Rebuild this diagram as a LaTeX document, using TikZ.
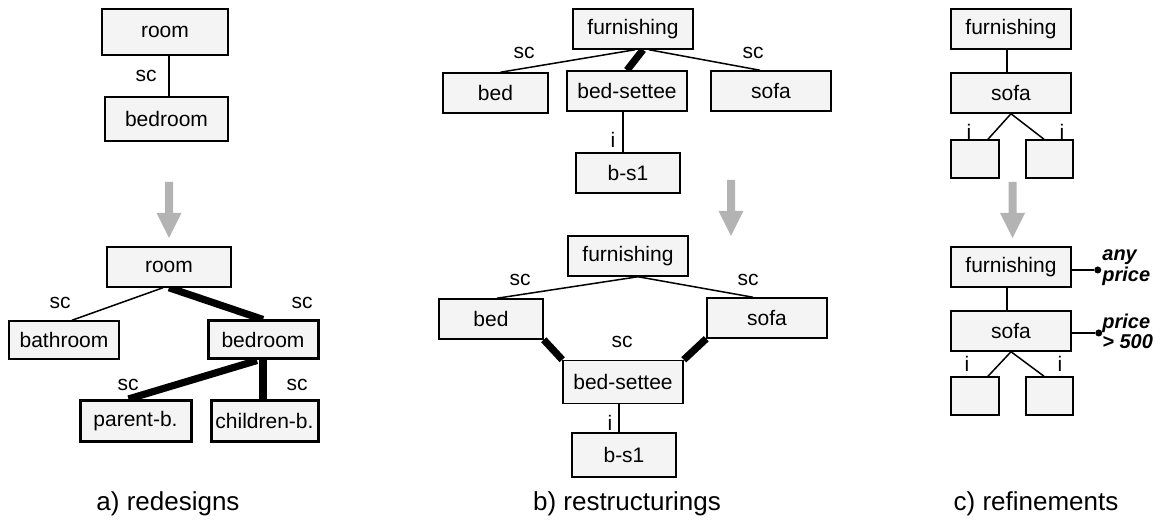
\documentclass[tikz,border=0pt]{standalone}
\usepackage{fontspec}
\setmainfont{Liberation Sans}
\usetikzlibrary{calc,backgrounds}
\definecolor{boxfill}{HTML}{F4F4F4}
\definecolor{arrowgray}{HTML}{B3B3B3}
\tikzset{
  cls/.style={draw=black, fill=boxfill, line width=0.75pt, inner sep=0pt,
    font=\fontsize{10.5}{12}\selectfont, minimum height=20pt},
  clsbold/.style={cls, line width=1.5pt},
  rel/.style={line width=0.75pt},
  relbold/.style={line width=3.6pt},
  lbl/.style={inner sep=0pt, font=\fontsize{10.5}{12}\selectfont},
  note/.style={inner sep=0pt, align=left, anchor=west,
    font=\fontsize{10}{7}\selectfont\bfseries\itshape},
  caption/.style={inner sep=0pt, font=\fontsize{13}{15}\selectfont},
  dot/.style={circle, fill=black, inner sep=0pt, minimum size=3.5pt},
  downarrow/.pic={\fill[arrowgray] (-4,0) -- (4,0) -- (4,31) -- (12.5,31)
    -- (0,56) -- (-12.5,31) -- (-4,31) -- cycle;}
}
\begin{document}
\begin{tikzpicture}[x=0.5pt, y=-0.5pt]
\useasboundingbox (0,0) rectangle (1164,522);

% ---------- a) redesigns ----------
\node[cls, minimum width=63pt, minimum height=23pt] (aroom) at (165,32) {room};
\node[cls, minimum width=61.5pt, minimum height=22pt] (abed) at (166.5,119) {bedroom};
\node[lbl] (asc) at (146,76) {sc};
\draw[rel] ([xshift=2pt]aroom.south) -- ([xshift=2pt]aroom.south |- abed.north);
\pic at (169,182) {downarrow};

\node[cls, minimum width=62pt] (broom) at (169,267) {room};
\node[cls, minimum width=55pt, minimum height=19pt] (bath) at (64,340) {bathroom};
\node[clsbold, minimum width=55pt, minimum height=19pt] (bbed) at (263,340) {bedroom};
\node[clsbold, minimum width=55.5pt, minimum height=20.5pt] (parent) at (135.5,421) {parent-b.};
\node[clsbold, minimum width=53.5pt, minimum height=20.5pt] (child) at (264.5,421) {children-b.};
\node[lbl] at (60,303) {sc};
\node[lbl] at (302,303) {sc};
\node[lbl] at (128,385) {sc};
\node[lbl] at (297,385) {sc};
\begin{pgfonlayer}{background}
  \draw[rel] ([xshift=-3pt]broom.south) -- ([xshift=4pt]bath.north);
  \draw[relbold] (broom.south) -- (bbed.north);
  \draw[relbold] ([xshift=-3pt]bbed.south) -- ([xshift=-3.5pt]parent.north);
  \draw[relbold] (bbed.south) -- (bbed.south |- child.north);
\end{pgfonlayer}
\node[caption] at (168,504) {a) redesigns};

% ---------- b) restructurings ----------
\node[cls, minimum width=60pt] (bfur) at (633,29) {furnishing};
\node[cls, minimum width=52.5pt] (bbd) at (495.5,93) {bed};
\node[cls, minimum width=60pt] (bset) at (627,91) {bed-settee};
\node[cls, minimum width=60pt] (bsofa) at (771,91) {sofa};
\node[cls, minimum width=52pt] (bbs) at (628,173) {b-s1};
\node[lbl] at (524,53) {sc};
\node[lbl] at (753,53) {sc};
\node[lbl] at (613,140) {i};
\begin{pgfonlayer}{background}
  \draw[rel] ([xshift=1pt]bfur.south) -- ([xshift=2.5pt]bbd.north);
  \draw[relbold] ([xshift=5pt]bfur.south) -- (bset.north);
  \draw[rel] ([xshift=8pt]bfur.south) -- ([xshift=-5.5pt]bsofa.north);
  \draw[rel] ([xshift=-2pt]bset.south) -- ([xshift=-2pt]bset.south |- bbs.north);
\end{pgfonlayer}
\pic at (731,180) {downarrow};

\node[cls, minimum width=60pt] (cfur) at (628,256) {furnishing};
\node[cls, minimum width=52pt] (cbed) at (491,319) {bed};
\node[cls, minimum width=60pt] (csofa) at (767,318) {sofa};
\node[cls, minimum width=60pt, minimum height=21.5pt] (cset) at (623,382) {bed-settee};
\node[cls, minimum width=52pt, minimum height=22pt] (cbs) at (624,455) {b-s1};
\node[lbl] at (520,280) {sc};
\node[lbl] at (748,280) {sc};
\node[lbl] at (622,342) {sc};
\node[lbl] at (610,423) {i};
\begin{pgfonlayer}{background}
  \draw[rel] ([xshift=5pt]cfur.south) -- ([xshift=3pt]cbed.north);
  \draw[rel] ([xshift=5pt]cfur.south) -- ([xshift=-7pt]csofa.north);
  \draw[relbold] (cbed.south east) -- (cset.north west);
  \draw[relbold] (csofa.south west) -- (cset.north east);
  \draw[rel] ([xshift=-2pt]cset.south) -- ([xshift=-2pt]cset.south |- cbs.north);
\end{pgfonlayer}
\node[caption] at (627,504) {b) restructurings};

% ---------- c) refinements ----------
\node[cls, minimum width=60pt] (dfur) at (1011,29) {furnishing};
\node[cls, minimum width=60pt] (dsofa) at (1011,93) {sofa};
\node[cls, minimum width=24pt, minimum height=19pt] (dl) at (975,159) {};
\node[cls, minimum width=23.5pt, minimum height=19pt] (dr) at (1049.5,159) {};
\node[lbl] at (969,132) {i};
\node[lbl] at (1062,132) {i};
\begin{pgfonlayer}{background}
  \draw[rel] ([xshift=-2pt]dfur.south) -- ([xshift=-2pt]dfur.south |- dsofa.north);
  \draw[rel] (dsofa.south) -- ([xshift=6.5pt]dl.north);
  \draw[rel] (dsofa.south) -- ([xshift=-2.75pt]dr.north);
\end{pgfonlayer}
\pic at (1012.5,182) {downarrow};

\node[cls, minimum width=60pt] (efur) at (1011,267) {furnishing};
\node[cls, minimum width=60pt] (esofa) at (1011,331) {sofa};
\node[cls, minimum width=24pt, minimum height=19pt] (el) at (975,396) {};
\node[cls, minimum width=23.5pt, minimum height=19pt] (er) at (1049.5,396) {};
\node[lbl] at (967,364) {i};
\node[lbl] at (1060,364) {i};
\begin{pgfonlayer}{background}
  \draw[rel] ([xshift=-2pt]efur.south) -- ([xshift=-2pt]efur.south |- esofa.north);
  \draw[rel] (esofa.south) -- ([xshift=6.5pt]el.north);
  \draw[rel] (esofa.south) -- ([xshift=-2.75pt]er.north);
\end{pgfonlayer}
\node[dot] (edot1) at ([xshift=13pt, yshift=-1.5pt]efur.east) {};
\node[dot] (edot2) at ([xshift=13.5pt, yshift=-1pt]esofa.east) {};
\draw[rel] (efur.east |- edot1) -- (edot1);
\draw[rel] (esofa.east |- edot2) -- (edot2);
\node[note] (nany) at (1102,268) {any\\price};
\node[note] (nprice) at (1102,331) {price\\> 500};
\node[caption] at (1036,504) {c) refinements};
\end{tikzpicture}
\end{document}
